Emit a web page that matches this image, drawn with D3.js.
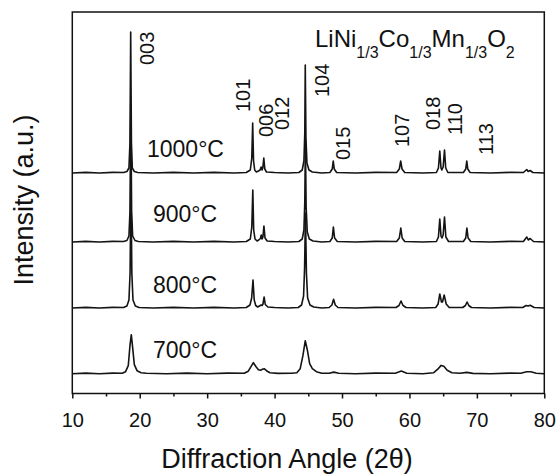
<!DOCTYPE html>
<html>
<head>
<meta charset="utf-8">
<script src="https://d3js.org/d3.v7.min.js"></script>
<style>
  body { margin: 0; background: #fff; }
  svg { font-family: "Liberation Sans", Arial, sans-serif; }
</style>
</head>
<body>
<div id="chart"></div>
<script>
// temperatures of the four patterns, top to bottom
var temperatures = ['1000\u00b0C', '900\u00b0C', '800\u00b0C', '700\u00b0C'];

// baseline offset of each pattern (a.u.)
var offsets = [220.5, 151.5, 85.5, 19.8];

// [2theta, intensity above baseline]
var pattern1000 = [
    [10, 0], [12, 0.6], [14, 0], [16, 0.6], [17.6, 0.5], [18.1, 1.5], [18.4, 5], [18.55, 30], [18.66, 141],
    [18.77, 30], [18.9, 5], [19.2, 1.5], [19.7, 0.5], [22, 0], [25, 0.6], [28, 0], [31, 0.6], [34, 0],
    [35.8, 0.5], [36.4, 3], [36.62, 15], [36.75, 50], [36.88, 12], [37.05, 3], [37.3, 1], [37.6, 2],
    [37.85, 3], [38.0, 6], [38.15, 3], [38.25, 5], [38.4, 15], [38.55, 4], [38.8, 1], [40, 0.5], [42, 0],
    [43.6, 0.5], [44.1, 3], [44.35, 12], [44.48, 40], [44.55, 108], [44.65, 35], [44.8, 10], [45.1, 3],
    [45.6, 1], [47, 0], [48.2, 0.5], [48.55, 4], [48.7, 12], [48.85, 4], [49.2, 0.5], [52, 0], [55, 0.6],
    [58.1, 0.5], [58.5, 4], [58.7, 12], [58.9, 4], [59.3, 0.5], [62, 0], [64, 0.5], [64.3, 5], [64.5, 22],
    [64.68, 5], [64.8, 3], [65.0, 6], [65.2, 23], [65.38, 5], [65.7, 0.5], [68.0, 0.5], [68.35, 4],
    [68.5, 12], [68.65, 4], [69, 0.5], [72, 0], [75, 0.6], [76.9, 0.5], [77.4, 3.5], [77.6, 1.5],
    [77.9, 2.5], [78.3, 0.5], [80, 0]
];
var pattern900 = [
    [10, 0], [12, 0.6], [14, 0], [16, 0.6], [17.6, 0.5], [18.1, 1.5], [18.4, 6], [18.55, 30], [18.68, 135],
    [18.8, 30], [18.95, 6], [19.3, 1.5], [19.8, 0.5], [22, 0], [25, 0.6], [28, 0], [31, 0.6], [34, 0],
    [35.8, 0.5], [36.4, 3], [36.62, 15], [36.77, 52], [36.9, 12], [37.1, 3], [37.4, 1], [37.65, 2],
    [37.9, 3.5], [38.02, 7], [38.15, 3], [38.27, 5], [38.42, 16], [38.58, 4], [38.9, 1], [40, 0.5], [42, 0],
    [43.6, 0.5], [44.1, 3], [44.35, 12], [44.48, 40], [44.57, 100], [44.68, 35], [44.85, 10], [45.15, 3],
    [45.7, 1], [47, 0], [48.2, 0.5], [48.55, 4], [48.72, 15], [48.9, 4], [49.3, 0.5], [52, 0], [55, 0.6],
    [58.1, 0.5], [58.5, 4], [58.72, 14], [58.92, 4], [59.3, 0.5], [62, 0], [64, 0.5], [64.3, 5], [64.5, 23],
    [64.68, 6], [64.82, 4], [65.0, 7], [65.2, 25], [65.4, 5], [65.8, 0.5], [68.0, 0.5], [68.35, 4],
    [68.52, 14], [68.7, 4], [69.1, 0.5], [72, 0], [75, 0.6], [76.9, 0.5], [77.4, 5], [77.62, 2],
    [77.9, 3.5], [78.4, 0.5], [80, 0]
];
var pattern800 = [
    [10, 0], [12, 0.6], [14, 0], [16, 0.6], [17.6, 0.5], [18.1, 2], [18.4, 8], [18.57, 35], [18.7, 125],
    [18.83, 35], [19.0, 8], [19.35, 2], [19.9, 0.5], [22, 0], [25, 0.6], [28, 0], [31, 0.6], [34, 0],
    [35.8, 0.5], [36.35, 3], [36.6, 10], [36.8, 28], [36.98, 8], [37.2, 2.5], [37.5, 1], [37.75, 2],
    [38.0, 3], [38.15, 2.5], [38.28, 4], [38.45, 11], [38.62, 3.5], [39.0, 1], [40, 0.5], [42, 0],
    [43.5, 0.5], [44.0, 3], [44.3, 12], [44.45, 40], [44.58, 95], [44.72, 35], [44.9, 10], [45.25, 3],
    [45.8, 1], [47, 0], [48.1, 0.5], [48.5, 3], [48.75, 8.7], [49.0, 3], [49.4, 0.5], [52, 0], [55, 0.6],
    [58.0, 0.5], [58.45, 2.5], [58.75, 7], [59.05, 2.5], [59.5, 0.5], [62, 0], [63.9, 0.5], [64.25, 4],
    [64.5, 14], [64.75, 6], [64.9, 6], [65.15, 13], [65.45, 4], [65.9, 0.5], [67.9, 0.5], [68.3, 2.5],
    [68.55, 6], [68.8, 2.5], [69.2, 0.5], [72, 0], [75, 0.6], [76.8, 0.5], [77.3, 2.5], [77.6, 2],
    [77.9, 2.7], [78.5, 0.5], [80, 0]
];
var pattern700 = [
    [10, 0], [12, 0.6], [14, 0], [16, 0.6], [17.4, 0.5], [17.9, 2], [18.3, 8], [18.55, 28], [18.75, 39],
    [18.95, 26], [19.2, 9], [19.6, 3], [20.2, 1], [21, 0.5], [24, 0], [27, 0.6], [30, 0], [33, 0.6],
    [35.5, 0.5], [36.1, 2.5], [36.5, 7], [36.85, 11], [37.25, 7], [37.6, 4], [37.9, 3.5], [38.2, 4.5],
    [38.45, 5], [38.8, 3], [39.3, 1], [40.5, 0.3], [42.5, 0.5], [43.3, 1], [43.8, 5], [44.2, 18],
    [44.55, 33], [44.85, 24], [45.2, 10], [45.6, 5], [46.2, 2], [47, 0.5], [48.1, 0.5], [48.8, 1.6],
    [49.5, 0.5], [52, 0], [55, 0.6], [57.9, 0.5], [58.8, 2.6], [59.6, 0.5], [62, 0], [63.6, 1],
    [64.2, 4.5], [64.7, 8.3], [65.1, 7.5], [65.6, 3.5], [66.3, 1], [67.5, 0.5], [68.5, 1.3], [69.4, 0.3],
    [72, 0], [75, 0.6], [76.5, 0.5], [77.4, 2], [78.0, 2], [78.8, 0.5], [80, 0]
];
var patterns = [pattern1000, pattern900, pattern800, pattern700];

// Miller index labels: [text, 2theta of label, a.u. where text starts]
var hklLabels = [
    ['003', 21.1, 328.5], ['101', 35.3, 281.5], ['006', 38.65, 256.5], ['012', 41.0, 263.5],
    ['104', 47.0, 296.5], ['015', 50.07, 233.5], ['107', 58.85, 246.5], ['018', 63.5, 263.5],
    ['110', 66.76, 258.5], ['113', 71.35, 238.5]
];

// temperature label anchors: [2theta, a.u. baseline]
var tempLabelPos = [[21.08, 236.5], [21.97, 171.5], [21.97, 100.5], [21.97, 35.5]];

var majorTicks = [10, 20, 30, 40, 50, 60, 70, 80];
var minorTicks = [15, 25, 35, 45, 55, 65, 75];

var WIDTH = 560, HEIGHT = 475;
var MARGINS = {top: 12, right: 15.7, bottom: 81.5, left: 72.3};
var plotW = WIDTH - MARGINS.left - MARGINS.right;
var plotH = HEIGHT - MARGINS.top - MARGINS.bottom;

var svg = d3.select('#chart').append('svg')
    .attr('width', WIDTH)
    .attr('height', HEIGHT);

var x = d3.scaleLinear().domain([10, 80]).range([MARGINS.left, MARGINS.left + plotW]);
var y = d3.scaleLinear().domain([0, plotH]).range([MARGINS.top + plotH, MARGINS.top]);

// patterns
patterns.forEach(function(points, i) {
    var line = d3.line()
        .x(function(d) { return x(d[0]); })
        .y(function(d) { return y(d[1] + offsets[i]); });
    svg.append('path')
        .attr('d', line(points))
        .attr('fill', 'none')
        .attr('stroke', '#141414')
        .attr('stroke-width', 1.6)
        .attr('stroke-linejoin', 'round');
});

// frame
svg.append('rect')
    .attr('x', MARGINS.left)
    .attr('y', MARGINS.top)
    .attr('width', plotW)
    .attr('height', plotH)
    .attr('fill', 'none')
    .attr('stroke', '#111')
    .attr('stroke-width', 1.5);

// x axis, major + minor ticks
var xAxis = d3.axisBottom(x).tickValues(majorTicks).tickSize(5).tickPadding(14)
    .tickFormat(d3.format('d'));
var gx = svg.append('g')
    .attr('transform', 'translate(0,' + (MARGINS.top + plotH) + ')')
    .call(xAxis);
gx.select('.domain').remove();
gx.selectAll('line').attr('stroke', '#111').attr('stroke-width', 1.5);
gx.selectAll('text').attr('font-size', 20).attr('fill', '#111')
    .attr('font-family', '"Liberation Sans", Arial, sans-serif');

var gxMinor = svg.append('g')
    .attr('transform', 'translate(0,' + (MARGINS.top + plotH) + ')')
    .call(d3.axisBottom(x).tickValues(minorTicks).tickSize(3).tickFormat(''));
gxMinor.select('.domain').remove();
gxMinor.selectAll('line').attr('stroke', '#111').attr('stroke-width', 1.5);

// axis titles
svg.append('text')
    .attr('x', 287)
    .attr('y', 468)
    .attr('text-anchor', 'middle')
    .attr('font-size', 27)
    .attr('fill', '#111')
    .text('Diffraction Angle (2\u03b8)');

svg.append('text')
    .attr('transform', 'translate(33,200) rotate(-90)')
    .attr('text-anchor', 'middle')
    .attr('font-size', 27)
    .attr('fill', '#111')
    .text('Intensity (a.u.)');

// hkl labels
svg.selectAll('.hkl')
    .data(hklLabels)
    .enter().append('text')
    .attr('class', 'hkl')
    .attr('transform', function(d) { return 'translate(' + x(d[1]) + ',' + y(d[2]) + ') rotate(-90)'; })
    .attr('dy', '0.36em')
    .attr('font-size', 20)
    .attr('fill', '#111')
    .text(function(d) { return d[0]; });

// temperature labels
svg.selectAll('.temp')
    .data(temperatures)
    .enter().append('text')
    .attr('class', 'temp')
    .attr('x', function(d, i) { return x(tempLabelPos[i][0]); })
    .attr('y', function(d, i) { return y(tempLabelPos[i][1]); })
    .attr('font-size', 23)
    .attr('fill', '#111')
    .text(function(d) { return d; });

// compound formula with subscripts
var formula = svg.append('text')
    .attr('x', 315)
    .attr('y', 46.7)
    .attr('font-size', 24)
    .attr('fill', '#111');
[['LiNi', false], ['1/3', true], ['Co', false], ['1/3', true], ['Mn', false], ['1/3', true],
 ['O', false], ['2', true]].forEach(function(part) {
    var ts = formula.append('tspan').text(part[0]);
    if (part[1]) {
        ts.attr('font-size', 16).attr('dy', 11);
    } else {
        ts.attr('dy', formula.selectAll('tspan').size() > 1 ? -11 : 0);
    }
});
</script>
</body>
</html>
